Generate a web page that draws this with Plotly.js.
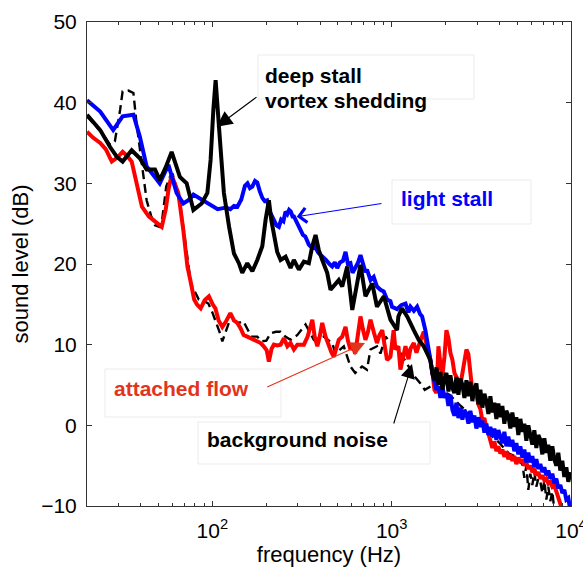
<!DOCTYPE html>
<html>
<head>
<meta charset="utf-8">
<script src="https://cdn.plot.ly/plotly-3.0.1.min.js"></script>
<style>html,body{margin:0;padding:0;background:#fff;}#chart{width:583px;height:567px;}</style>
</head>
<body>
<div id="chart"></div>
<script>
// ---- data (frequency in Hz, sound level in dB) ----
const bgFreq = [20,23.7,26.9,28.6,30.6,31.6,34,36.3,37.8,40.5,43,45.5,47.9,50.9,52.5,55.3,58,60,63,66.6,70,73,76,79,84,90,95,100,106,110,113.7,118,124,130,140,149,157,165,178,188,200,211,226,240,255,273,298,331,368,418,466,486,541,589,626,684,728,762,828,866,923,1030,1090,1180,1270,1350,1447,1530,1700,1900,2100,2400,2700,3100,3500,4000,4500,5086,5218,5354,5493,5636,5782,5933,6087,6245,6408,6574,6745,6921,7101,7285,7474,7669,7868,8072];
const bgDb   = [38.3,36.5,34.8,35.2,39.1,41.4,41.5,41.2,37.4,32.5,27.9,26.0,24.8,24.6,25.5,29.6,30.8,31.2,29.5,27.0,23.5,20.0,17.5,16.8,15.6,15.4,15.1,14.0,12.5,11.5,10.4,11.5,12.8,13.0,12.7,12.9,12.0,11.0,11.0,10.4,10.5,11.4,11.6,11.6,11.0,10.6,11.2,12.5,10.6,11.0,10.2,8.9,9.8,7.3,6.5,7.3,6.9,9.4,9.8,8.9,11.0,9.8,9.4,8.1,6.9,6.0,5.2,4.4,5.0,4.2,3.8,2.5,1.5,0.5,-1.0,-2.2,-3.5,-4.0,-4.6,-4.8,-6.5,-5.0,-8.0,-6.0,-7.4,-5.8,-7.6,-6.6,-7.0,-8.4,-6.8,-9.2,-7.6,-9.4,-8.2,-10.5];

const attFreq = [20,21.5,23.7,25.5,27.5,29.5,31.6,33.5,35.5,38.6,40.5,44.2,48,52.2,55,57,59.3,62,64.6,68.9,72.6,75.7,79.2,82,86.1,90.6,95.7,100.4,104,108.4,113.7,118.6,126,132,137.8,143.8,149.4,156.6,163,169.6,178.1,186,193.4,201,206.7,214,220.4,230,240.2,250.7,262,273,285,298,310,324,340,361,372,385,397,410,428,446,462,476,493,507,530,553,570,589,607,626,646,670,690,714,736,762,796,828,855,886,912,942,984,1025,1050,1090,1119,1160,1194,1241,1273,1328,1375,1447,1510,1567,1609];
const attDb   = [36.4,35.7,35.0,34.2,32.7,33.2,33.9,33.4,32.7,29.2,27.1,25.9,25.2,24.6,26.8,29.3,31.0,29.8,28.8,24.2,19.7,17.8,15.6,15.0,14.5,15.5,16.0,15.0,14.5,13.0,12.2,12.8,13.9,13.0,12.7,12.0,11.2,11.0,10.8,10.6,10.4,10.2,9.8,9.3,7.9,9.5,10.0,9.9,10.0,10.8,9.8,10.2,9.4,10.0,10.0,10.0,11.0,13.1,11.0,9.8,11.0,12.7,11.0,9.8,9.0,8.5,9.5,10.6,11.0,12.2,10.5,9.4,9.8,8.9,11.0,13.5,12.0,10.6,11.5,13.1,11.5,10.2,11.2,11.8,10.0,8.1,8.5,11.8,9.4,9.8,6.9,8.5,9.8,8.2,9.5,10.2,9.0,10.5,11.6,10.0,9.0];

const lightFreq = [20,23.7,28.0,31.6,36.3,39.4,43,46.7,50.9,56.9,63.2,68.9,73.5,78.4,89,98,103,107,113,119,126,132,138,145,152,157,162,167,173,178,184,190,196,202,209,216,222,228,235,242,249,256,262,268,274,280,285,292,300,310,320,330,345,360,372,390,410,430,450,466,482,497,515,535,553,570,589,605,626,650,670,690,714,728,745,762,794,828,866,903,942,984,1004,1040,1072,1130,1194,1240,1273,1330,1387,1440,1478,1541,1607];
const lightDb   = [40.3,38.9,36.6,38.3,38.5,35.8,32.1,31.0,30.0,32.3,28.8,27.5,27.9,28.6,27.9,27.3,27.0,26.8,26.9,27.0,26.8,27.2,27.1,28.0,29.7,30.0,29.4,29.6,30.3,30.1,29.0,28.2,27.8,27.9,26.5,25.9,25.3,24.8,24.6,25.5,25.3,26.5,26.2,26.7,26.5,25.9,25.9,25.4,24.8,24.4,23.6,23.4,22.4,22.0,22.2,21.4,21.0,20.5,20.0,19.7,20.2,19.5,20.2,20.4,21.5,20.0,20.1,18.9,19.5,20.2,21.1,20.0,19.0,19.3,18.6,18.0,18.4,17.2,16.8,16.6,15.6,15.4,14.7,14.6,14.4,14.9,15.1,14.0,14.7,14.2,14.7,13.8,13.5,11.8,9.8];

const deepFreq = [20,23.7,26.9,29.3,31.6,35.5,39.4,43,47.9,50.9,55,59.3,65.9,71.9,78.4,87.2,93.8,97.8,101.3,104.3,108.9,112,116,124,132,140.6,146.8,156.6,167.1,178.1,189.9,198.2,206.7,213,220.4,230,240.2,256.1,273.1,284.9,303.8,323.9,345.3,360.7,376.3,392.6,410.1,437,456,486,507,530,565,603,637,670,714,779,828,904,984,1072,1090,1140,1220,1273,1328,1416,1510,1609];
const deepDb   = [38.5,36.6,34.5,33.3,32.7,34.1,33.1,31.7,31.7,30.4,32.0,33.9,30.8,30.0,26.7,27.5,28.8,32.9,39.1,42.8,37.0,32.5,28.8,24.6,21.3,20.1,18.9,20.1,19.1,20.5,22.2,25.5,27.9,25.5,23.8,21.5,20.5,20.9,19.5,20.5,19.3,20.3,20.1,22.2,23.6,21.7,20.5,18.9,16.8,17.6,18.0,17.2,19.7,14.3,17.2,19.9,16.0,17.6,14.7,16.0,13.1,11.8,13.5,14.5,13.5,12.5,11.8,10.6,9.8,8.5];

// high-frequency part (1.6 kHz - 10 kHz)
const tailFreq = [1645,1688,1732,1777,1823,1870,1919,1969,2020,2072,2126,2182,2238,2296,2356,2417,2480,2545,2611,2679,2748,2819,2893,2968,3045,3124,3205,3289,3374,3462,3551,3644,3738,3835,3935,4037,4142,4250,4360,4474,4590,4710,4831,4957,5086,5218,5354,5493,5636,5782,5933,6087,6245,6408,6574,6745,6921,7101,7285,7474,7669,7868,8072,8282,8497,8718,8944,9177,9415,9660,9911];
const deepTailDb  = [8.0,6.4,5.6,7.2,5.0,6.6,4.4,5.8,6.5,4.2,6.2,4.6,4.0,6.0,3.8,5.8,5.0,3.4,5.6,3.6,5.4,3.0,4.6,5.2,2.6,4.4,2.2,3.9,3.0,1.4,3.6,1.6,2.8,0.8,2.7,1.0,2.4,0.2,1.8,1.2,-0.4,1.6,-0.2,1.0,-1.2,0.8,-0.8,0.2,-1.9,0.0,-1.4,-2.4,-0.6,-2.8,-1.2,-1.8,-3.6,-1.6,-3.4,-2.4,-4.4,-2.6,-4.2,-5.0,-3.4,-5.6,-4.4,-6.4,-5.2,-7.0,-5.8];
const lightTailDb = [8.1,6.4,5.2,4.4,4.8,3.4,4.8,3.4,4.0,2.4,3.8,1.9,1.2,2.8,0.9,2.2,0.7,1.9,1.4,0.2,1.8,0.4,1.2,-0.4,1.0,-0.2,0.6,-0.9,0.2,-1.2,-0.2,-1.4,-0.4,-1.8,-0.6,-1.4,-2.2,-0.8,-2.6,-1.4,-2.6,-1.8,-3.2,-2.2,-3.6,-2.6,-4.0,-3.0,-4.6,-3.4,-4.6,-3.8,-5.2,-4.2,-5.4,-4.8,-5.8,-5.2,-6.2,-5.6,-6.6,-6.0,-7.2,-6.6,-7.8,-7.4,-8.4,-8.0,-9.2,-9.0,-10.5];
const attTailDb   = [8.1,6.5,4.4,4.0,9.8,7.6,6.2,8.5,11.8,10.8,9.0,8.1,6.5,6.0,5.2,5.0,6.4,7.8,9.4,8.8,6.5,4.2,4.8,3.4,2.6,2.0,0.6,0.9,-0.4,-1.0,-1.8,-2.8,-2.0,-3.2,-2.6,-3.5,-3.0,-3.9,-3.2,-4.2,-3.6,-4.4,-3.8,-4.8,-4.0,-4.6,-4.2,-5.0,-4.6,-5.4,-5.0,-5.8,-5.4,-6.2,-5.8,-6.6,-6.2,-6.8,-6.6,-7.2,-7.0,-7.6,-7.4,-8.2,-8.6,-9.4,-10.5];

const seriesNames = ['background noise','attached flow','light stall','deep stall'];
const xTickVals = [100, 1000, 10000];
const xTickText = ['10<sup>2</sup>','10<sup>3</sup>','10<sup>4</sup>'];
const xMinorVals = [20,30,40,50,60,70,80,90,200,300,400,500,600,700,800,900,2000,3000,4000,5000,6000,7000,8000,9000];

const FONT = 'Liberation Sans, Arial, sans-serif';

// plot-area helpers (paper coords from pixel positions in the 583x567 frame)
const L = 87, R = 571, T = 22, B = 506;
const px = v => (v - L) / (R - L);
const py = v => (B - v) / (B - T);

const withTail = (f, d, td) => ({
  x: f.concat(tailFreq.slice(0, td.length)),
  y: d.concat(td)
});
const att = withTail(attFreq, attDb, attTailDb);
const light = withTail(lightFreq, lightDb, lightTailDb);
const deep = withTail(deepFreq, deepDb, deepTailDb);

const traces = [
  {x: bgFreq, y: bgDb, name: seriesNames[0], mode: 'lines', line: {color: '#000', width: 2.4, dash: '9px,5px'}},
  {x: att.x, y: att.y, name: seriesNames[1], mode: 'lines', line: {color: '#ff0000', width: 4}},
  {x: light.x, y: light.y, name: seriesNames[2], mode: 'lines', line: {color: '#0000ff', width: 4}},
  {x: deep.x, y: deep.y, name: seriesNames[3], mode: 'lines', line: {color: '#000', width: 4}}
];

function box(x0, y0, x1, y1) {
  return {type: 'rect', xref: 'paper', yref: 'paper', x0: px(x0), x1: px(x1), y0: py(y1), y1: py(y0),
          line: {color: '#ebebeb', width: 1}, fillcolor: 'rgba(0,0,0,0)', layer: 'above'};
}
function label(text, x, y, color) {
  return {text: '<b>' + text + '</b>', xref: 'paper', yref: 'paper', x: px(x), y: py(y),
          xanchor: 'left', yanchor: 'middle', showarrow: false,
          font: {family: FONT, size: 21, color: color}};
}
function arrow(tipX, tipY, tailX, tailY, color, head, size, w) {
  return {text: '', xref: 'paper', yref: 'paper', x: px(tipX), y: py(tipY),
          ax: tailX - tipX, ay: tailY - tipY, showarrow: true,
          arrowhead: head, arrowsize: size, arrowwidth: w, arrowcolor: color};
}

const layout = {
  width: 583, height: 567,
  margin: {l: L, r: 583 - R, t: T, b: 567 - B},
  paper_bgcolor: '#fff', plot_bgcolor: '#fff',
  showlegend: false,
  font: {family: FONT, size: 21, color: '#000'},
  xaxis: {
    type: 'log', range: [Math.log10(20), 4],
    tickmode: 'array', tickvals: xTickVals, ticktext: xTickText,
    ticks: 'inside', ticklen: 5, tickcolor: '#333', tickwidth: 1,
    minor: {tickmode: 'array', tickvals: xMinorVals, ticks: 'inside', ticklen: 3, tickcolor: '#333', showgrid: false},
    showline: true, linecolor: '#333', linewidth: 1, mirror: 'ticks',
    showgrid: false, zeroline: false,
    tickfont: {family: FONT, size: 21, color: '#000'},
    ticklabelstandoff: 6, ticklabeloverflow: 'allow',
    title: {text: 'frequency (Hz)', font: {family: FONT, size: 22, color: '#000'}, standoff: 8}
  },
  yaxis: {
    range: [-10, 50], dtick: 10, tick0: 0,
    ticks: 'inside', ticklen: 5, tickcolor: '#333', tickwidth: 1,
    showline: true, linecolor: '#333', linewidth: 1, mirror: 'ticks',
    showgrid: false, zeroline: false,
    tickfont: {family: FONT, size: 21, color: '#000'},
    ticklabelstandoff: 5,
    title: {text: 'sound level (dB)', font: {family: FONT, size: 22, color: '#000'}, standoff: 6}
  },
  shapes: [
    box(258, 55, 474, 99),
    box(392, 180, 531, 224),
    box(105, 369, 281, 417),
    box(198, 422, 430, 464)
  ],
  annotations: [
    label('deep stall', 263, 75, '#000'),
    label('vortex shedding', 263, 100, '#000'),
    label('light stall', 399, 199, '#0000ff'),
    label('attached flow', 112, 388, '#e2341d'),
    label('background noise', 205, 439, '#000'),
    arrow(216.7, 126.7, 258, 96, '#000', 2, 2.6, 1.2),
    arrow(296.7, 216.7, 383, 203.3, '#0000ff', 4, 2.6, 1.1),
    arrow(365, 343, 265.7, 387.7, '#e2341d', 2, 2.6, 1.1),
    arrow(412, 364, 393.3, 425, '#000', 2, 2.6, 1.1)
  ]
};

Plotly.newPlot('chart', traces, layout, {staticPlot: true, displayModeBar: false});
</script>
</body>
</html>
